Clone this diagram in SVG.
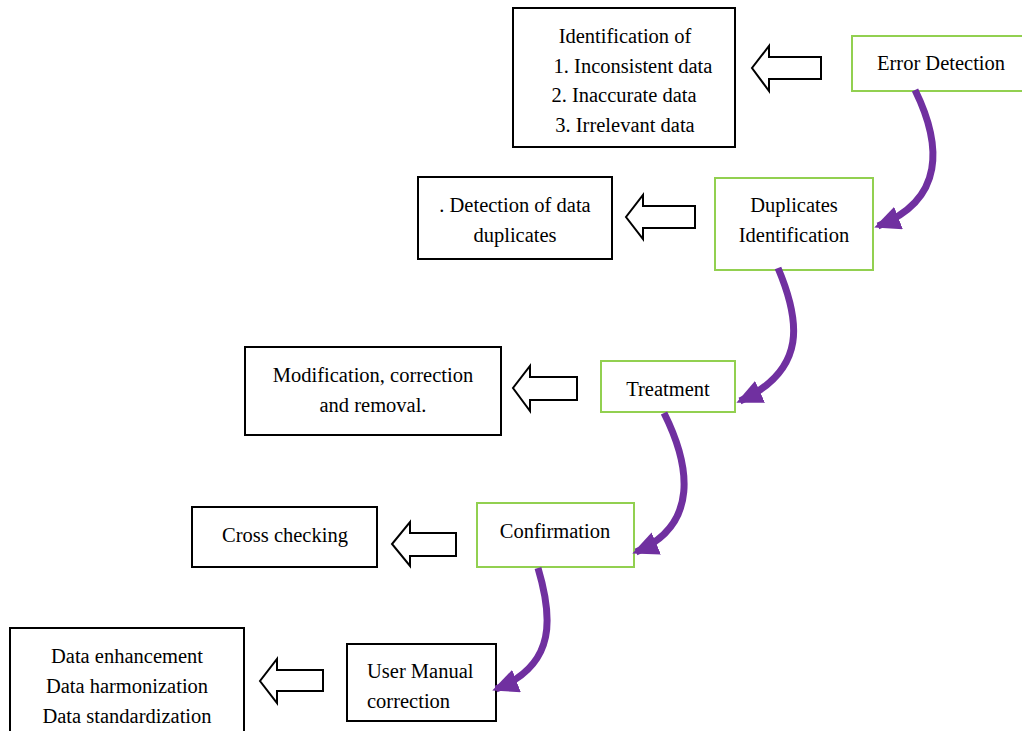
<svg xmlns="http://www.w3.org/2000/svg" width="1022" height="731" viewBox="0 0 1022 731">
  <style>
    .txt { font-family: "Liberation Serif", "Times New Roman", serif; font-size: 20.5px; fill: #000; }
    .mid { text-anchor: middle; }
    .step { fill: #fff; stroke: #92D050; stroke-width: 2; }
    .note { fill: #fff; stroke: #000; stroke-width: 2; }
    .block { fill: #fff; stroke: #000; stroke-width: 2; stroke-linejoin: miter; }
    .flow { fill: none; stroke: #7030A0; stroke-width: 7; stroke-linecap: butt; marker-end: url(#head); }
  </style>
  <defs>
    <marker id="head" viewBox="0 0 26 24" refX="22" refY="12" markerWidth="26" markerHeight="24" markerUnits="userSpaceOnUse" orient="auto">
      <path d="M0,0 L26,12 L0,24 z" fill="#7030A0"/>
    </marker>
  </defs>
  <rect width="1022" height="731" fill="#fff"/>

  <!-- process steps -->
  <g id="error-detection">
    <rect class="step" x="852" y="36" width="176" height="55"/>
    <text class="txt mid" x="941" y="70">Error Detection</text>
  </g>
  <g id="duplicates-identification">
    <rect class="step" x="715" y="178" width="158" height="92"/>
    <text class="txt mid" x="794" y="212">Duplicates</text>
    <text class="txt mid" x="794" y="242">Identification</text>
  </g>
  <g id="treatment">
    <rect class="step" x="601" y="361" width="134" height="51"/>
    <text class="txt mid" x="668" y="396">Treatment</text>
  </g>
  <g id="confirmation">
    <rect class="step" x="477" y="503" width="157" height="64"/>
    <text class="txt mid" x="555" y="538">Confirmation</text>
  </g>
  <g id="user-manual-correction">
    <rect class="note" x="347" y="644" width="149" height="77"/>
    <text class="txt" x="367" y="678">User Manual</text>
    <text class="txt" x="367" y="708">correction</text>
  </g>

  <!-- descriptions -->
  <g id="identification-list">
    <rect class="note" x="513" y="8" width="222" height="139"/>
    <text class="txt mid" x="625" y="43">Identification of</text>
    <text class="txt mid" x="633" y="73">1. Inconsistent data</text>
    <text class="txt mid" x="624" y="102">2. Inaccurate data</text>
    <text class="txt mid" x="625" y="132">3. Irrelevant data</text>
  </g>
  <g id="duplicate-detection">
    <rect class="note" x="418" y="177" width="194" height="82"/>
    <text class="txt mid" x="515" y="212">. Detection of data</text>
    <text class="txt mid" x="515" y="242">duplicates</text>
  </g>
  <g id="modification">
    <rect class="note" x="245" y="347" width="256" height="88"/>
    <text class="txt mid" x="373" y="382">Modification, correction</text>
    <text class="txt mid" x="373" y="412">and removal.</text>
  </g>
  <g id="cross-checking">
    <rect class="note" x="192" y="507" width="185" height="60"/>
    <text class="txt mid" x="285" y="542">Cross checking</text>
  </g>
  <g id="data-quality">
    <rect class="note" x="10" y="628" width="234" height="110"/>
    <text class="txt mid" x="127" y="663">Data enhancement</text>
    <text class="txt mid" x="127" y="693">Data harmonization</text>
    <text class="txt mid" x="127" y="723">Data standardization</text>
  </g>

  <!-- connectors -->
  <g id="connectors">
    <!-- hollow block arrows pointing to descriptions -->
    <path class="block" d="M821,57 L769,57 L769,46 L752,68 L769,91 L769,79 L821,79 Z"/>
    <path class="block" d="M695,206 L643,206 L643,195 L626,217 L643,239 L643,228 L695,228 Z"/>
    <path class="block" d="M577,377 L530,377 L530,366 L513,388 L530,411 L530,400 L577,400 Z"/>
    <path class="block" d="M456,533 L410,533 L410,522 L392,544 L410,566 L410,556 L456,556 Z"/>
    <path class="block" d="M323,670 L277,670 L277,659 L260,681 L277,703 L277,691 L323,691 Z"/>
    <!-- curved flow arrows between steps -->
    <path class="flow" d="M915,90 C942,145 945,200 878,226"/>
    <path class="flow" d="M778,268 C800,320 808,370 740,401"/>
    <path class="flow" d="M664,413 C690,465 700,525 636,552"/>
    <path class="flow" d="M538,568 C552,615 558,665 496,689"/>
  </g>
</svg>
